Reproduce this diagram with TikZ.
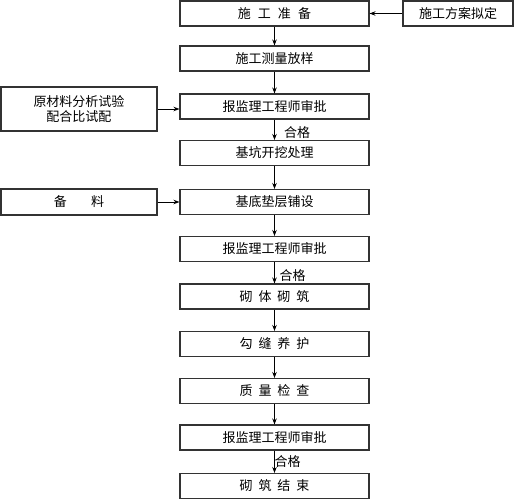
\documentclass[tikz,border=0pt]{standalone}
\usepackage{fontspec}
\setmainfont{Noto Sans CJK SC}
\usetikzlibrary{arrows.meta}
\begin{document}
\begin{tikzpicture}[x=1pt,y=-1pt,
  txt/.style={font=\fontsize{13}{15}\selectfont},
  mainbox/.style={draw=black!80, line width=1.1pt, minimum width=189pt, minimum height=25pt, inner sep=0pt, txt},
  sidebox/.style={draw=black!80, line width=1.1pt, inner sep=0pt, txt, align=center},
  arr/.style={-{Stealth[length=6pt,width=4.5pt]}, line width=0.9pt},
  lbl/.style={txt, inner sep=0pt}]
\useasboundingbox[fill=white] (0,0) rectangle (517,500);
\def\sp{\hspace{0.45em}}
\def\spw{\hspace{0.54em}}
\node[mainbox] (b1) at (274.5,13.5) {施\spw 工\spw 准\spw 备};
\node[mainbox] (b2) at (274.5,58.5) {施工测量放样};
\node[mainbox] (b3) at (274.5,106.5) {报监理工程师审批};
\node[mainbox] (b4) at (274.5,153) {基坑开挖处理};
\node[mainbox] (b5) at (274.5,202) {基底垫层铺设};
\node[mainbox] (b6) at (274.5,249) {报监理工程师审批};
\node[mainbox] (b7) at (274.5,296.5) {砌\sp 体\sp 砌\sp 筑};
\node[mainbox] (b8) at (274.5,344) {勾\sp 缝\sp 养\sp 护};
\node[mainbox] (b9) at (274.5,391) {质\sp 量\sp 检\sp 查};
\node[mainbox] (b10) at (274.5,437.5) {报监理工程师审批};
\node[mainbox] (b11) at (274.5,486) {砌\sp 筑\sp 结\sp 束};
\node[sidebox, minimum width=110pt, minimum height=25pt] (r1) at (458,13.5) {施工方案拟定};
\node[sidebox, minimum width=156pt, minimum height=44pt] (l1) at (79,109) {原材料分析试验\\配合比试配};
\node[sidebox, minimum width=156pt, minimum height=26pt] (l2) at (79,202) {备\hspace{1.85em}料};
\draw[arr] (b1) -- (b2);
\draw[arr] (b2) -- (b3);
\draw[arr] (b3) -- (b4);
\draw[arr] (b4) -- (b5);
\draw[arr] (b5) -- (b6);
\draw[arr] (b6) -- (b7);
\draw[arr] (b7) -- (b8);
\draw[arr] (b8) -- (b9);
\draw[arr] (b9) -- (b10);
\draw[arr] (b10) -- (b11);
\draw[arr] (r1) -- (b1);
\draw[arr] (l1.east) -- (l1.east -| b3.west);
\draw[arr] (l2) -- (b5);
\node[lbl] (q1) at (297,133) {合格};
\node[lbl] (q2) at (292.5,276) {合格};
\node[lbl] (q3) at (287.5,462) {合格};
\end{tikzpicture}
\end{document}
